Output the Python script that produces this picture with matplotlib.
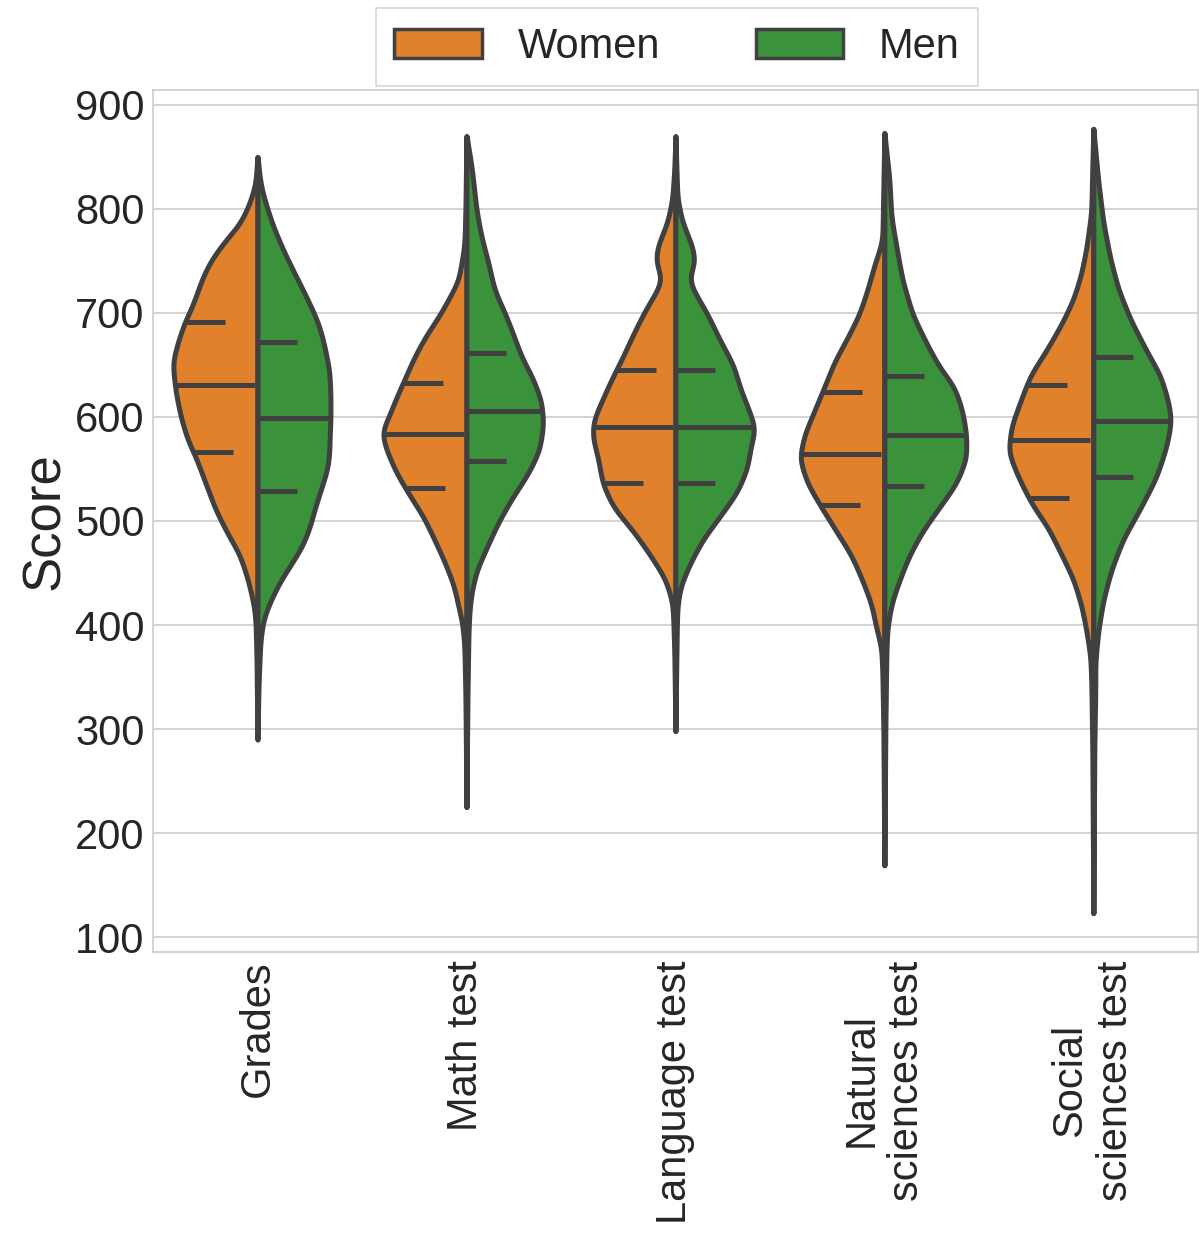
import numpy as np
import matplotlib
matplotlib.use("Agg")
import matplotlib.pyplot as plt
from matplotlib.patches import Patch

plt.rcParams['font.family'] = ['Liberation Sans', 'DejaVu Sans']

categories = ["Grades", "Math test", "Language test",
              "Natural\nsciences test", "Social\nsciences test"]

# violin half profiles: score -> half width (px of a 209 px slot)
grades_w_score = [290, 370, 406, 421, 445, 468, 488, 511, 539, 562, 578, 601, 625, 652,
                  671, 691, 707, 734, 750, 770, 785, 805, 824, 850]
grades_w_dens = [0, 1, 2, 4, 10, 18, 30, 42, 53, 62, 70, 77, 82, 85,
                 80, 73, 65, 55, 47, 32, 18, 8, 2, 0]
grades_m_score = [290, 340, 366, 386, 406, 421, 441, 456, 476, 496, 511, 535, 550, 566,
                  578, 597, 621, 644, 668, 687, 703, 723, 742, 762, 785, 809, 824, 850]
grades_m_dens = [0, 1, 2, 3, 6, 12, 22, 32, 45, 53, 57, 65, 70, 72,
                 72, 73, 73, 72, 67, 62, 55, 45, 35, 25, 15, 7, 3, 0]

math_w_score = [225, 330, 379, 401, 418, 439, 461, 482, 504, 525, 546, 568, 585, 602,
                619, 636, 658, 679, 696, 713, 731, 765, 800, 870]
math_w_dens = [0, 1, 2, 4, 8, 13, 22, 32, 43, 57, 70, 80, 85, 77,
               70, 62, 52, 40, 28, 18, 8, 2, 1, 0]
math_m_score = [225, 330, 392, 414, 431, 452, 474, 499, 521, 546, 568, 593, 615, 636,
                658, 679, 701, 722, 748, 773, 799, 842, 870]
math_m_dens = [0, 1, 2, 3, 5, 10, 20, 32, 45, 62, 73, 77, 75, 67,
               55, 47, 38, 28, 22, 15, 10, 5, 0]

lang_w_score = [298, 370, 403, 422, 444, 467, 490, 513, 536, 559, 581, 597, 619, 638,
                657, 680, 703, 722, 733, 749, 764, 787, 810, 840, 870]
lang_w_dens = [0, 1, 2, 3, 10, 25, 42, 62, 73, 77, 83, 82, 72, 63,
               53, 42, 30, 18, 13, 20, 18, 8, 3, 1, 0]
lang_m_score = [298, 370, 403, 418, 437, 460, 483, 505, 528, 551, 570, 589, 608, 627,
                650, 673, 699, 722, 733, 749, 764, 787, 810, 840, 870]
lang_m_dens = [0, 1, 1.5, 2, 5, 15, 28, 45, 62, 72, 75, 80, 73, 65,
               58, 45, 32, 18, 13, 20, 17, 7, 2, 1, 0]

nat_w_score = [169, 300, 355, 378, 397, 420, 443, 467, 490, 513, 536, 560, 583, 606,
               629, 653, 676, 699, 722, 746, 769, 820, 873]
nat_w_dens = [0, 1, 2, 3, 8, 13, 22, 33, 48, 63, 77, 85, 80, 70,
              60, 50, 37, 25, 17, 10, 2, 1, 0]
nat_m_score = [169, 300, 373, 397, 420, 443, 467, 490, 513, 536, 560, 583, 606, 629,
               648, 671, 699, 732, 764, 792, 829, 873]
nat_m_dens = [0, 1, 2, 3, 7, 15, 25, 38, 55, 72, 82, 82, 78, 70,
              55, 42, 28, 18, 12, 7, 5, 0]

soc_w_score = [123, 280, 346, 370, 395, 419, 444, 468, 493, 517, 542, 566, 591, 615,
               640, 664, 689, 713, 738, 762, 797, 840, 877]
soc_w_dens = [0, 1, 2, 3, 7, 12, 20, 32, 45, 62, 75, 85, 82, 73,
              63, 47, 32, 20, 12, 7, 2, 1, 0]
soc_m_score = [123, 280, 341, 365, 395, 424, 453, 483, 512, 542, 571, 596, 615, 640,
               664, 694, 723, 752, 787, 826, 877]
soc_m_dens = [0, 1, 2, 2, 5, 10, 18, 30, 47, 63, 73, 78, 75, 67,
              53, 37, 25, 17, 10, 5, 0]

# quartiles (25, 50, 75)
women_quart = [[566, 631, 691], [532, 584, 633], [537, 590, 645], [515, 564, 624], [522, 578, 631]]
men_quart = [[529, 599, 672], [558, 606, 662], [537, 590, 645], [534, 583, 639], [542, 596, 658]]

women_profiles = [(grades_w_score, grades_w_dens), (math_w_score, math_w_dens),
                  (lang_w_score, lang_w_dens), (nat_w_score, nat_w_dens),
                  (soc_w_score, soc_w_dens)]
men_profiles = [(grades_m_score, grades_m_dens), (math_m_score, math_m_dens),
                (lang_m_score, lang_m_dens), (nat_m_score, nat_m_dens),
                (soc_m_score, soc_m_dens)]

orange = "#e1812c"
green = "#3a923a"
gray = "#404040"
lw = 3.6
scale = 1 / 209.0


def smooth_profile(s, d, sigma=7.0):
    # round off the corners of the read-off outline
    grid = np.linspace(s[0], s[-1], 600)
    vals = np.interp(grid, s, d)
    step = grid[1] - grid[0]
    half = int(3 * sigma / step)
    k = np.exp(-0.5 * (np.arange(-half, half + 1) * step / sigma) ** 2)
    k /= k.sum()
    padded = np.concatenate([np.zeros(half), vals, np.zeros(half)])
    out = np.convolve(padded, k, mode="valid")
    out[0] = 0
    out[-1] = 0
    return grid, out


fig = plt.figure(figsize=(11.99, 12.36), dpi=100)
ax = fig.add_axes([153 / 1199, 1 - 952 / 1236, 1 - 153 / 1199 - 0.001, (952 - 90) / 1236])

for i in range(len(categories)):
    for side, profs, quarts, col in ((-1, women_profiles, women_quart, orange),
                                     (1, men_profiles, men_quart, green)):
        s = np.array(profs[i][0], dtype=float)
        d = np.array(profs[i][1], dtype=float) * scale
        gs, gd = smooth_profile(s, d)
        poly = ax.fill_betweenx(gs, i, i + side * gd, facecolor=col, edgecolor=gray,
                                linewidth=lw, zorder=2)
        poly.set_joinstyle("round")
        for k, q in enumerate(quarts[i]):
            w = np.interp(q, gs, gd)
            dash = (0, (16, 16)) if k == 1 else (0, (8, 8))
            if side < 0:
                xs = [i - w, i]
            else:
                xs = [i, i + w]
            ax.plot(xs, [q, q], color=gray, lw=lw, linestyle=dash,
                    solid_capstyle="butt", dash_capstyle="butt", zorder=3)

ax.set_xlim(-0.5, 4.5)
ax.set_ylim(85.6, 914.4)
ax.set_yticks(range(100, 901, 100))
ax.set_xticks(range(len(categories)))
ax.set_xticklabels(categories, rotation=90)
ax.tick_params(axis="both", length=0, labelsize=30, colors="#262626")
ax.tick_params(axis="y", pad=6)
ax.tick_params(axis="x", pad=6)
ax.set_ylabel("Score", fontsize=38, color="#262626", labelpad=4)
ax.yaxis.grid(True, color="#cccccc", linewidth=1.2, zorder=0)
ax.xaxis.grid(False)
ax.set_axisbelow(True)
for sp in ax.spines.values():
    sp.set_color("#cccccc")
    sp.set_linewidth(1.2)

handles = [Patch(facecolor=orange, edgecolor=gray, linewidth=2.5, label="Women"),
           Patch(facecolor=green, edgecolor=gray, linewidth=2.5, label="Men")]
leg = ax.legend(handles=handles, loc="upper center", ncol=2, fontsize=30,
                bbox_to_anchor=(677 / 1199, 1 - 8 / 1236), bbox_transform=fig.transFigure,
                fancybox=False, handlelength=2.1, handleheight=0.7, columnspacing=2.3,
                borderpad=0.45, borderaxespad=0, handletextpad=0.85)
leg.get_frame().set_edgecolor("#cccccc")
leg.get_frame().set_linewidth(1.2)
for t in leg.get_texts():
    t.set_color("#262626")

fig.savefig("out.png", dpi=100)
